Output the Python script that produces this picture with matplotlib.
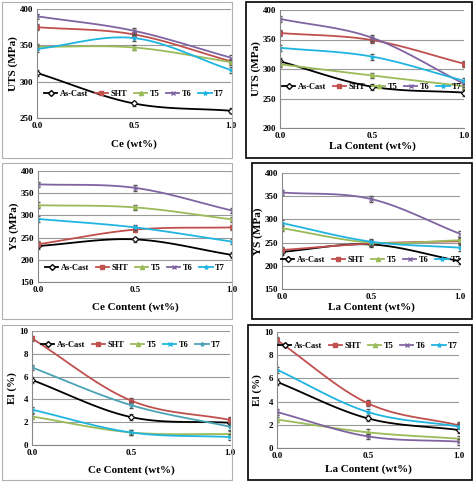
import numpy as np
import matplotlib
matplotlib.use('Agg')
import matplotlib.pyplot as plt
from matplotlib.patches import Rectangle

plt.rcParams['font.family'] = ['Liberation Serif', 'DejaVu Serif']

x = [0.0, 0.5, 1.0]
series = ['As-Cast', 'SHT', 'T5', 'T6', 'T7']

uts_ce = {'As-Cast': [312, 270, 260], 'SHT': [375, 365, 328], 'T5': [348, 347, 327],
          'T6': [390, 370, 333], 'T7': [345, 360, 316]}
uts_la = {'As-Cast': [313, 270, 260], 'SHT': [361, 349, 309], 'T5': [308, 289, 271],
          'T6': [385, 353, 275], 'T7': [336, 321, 280]}
ys_ce = {'As-Cast': [231, 246, 211], 'SHT': [235, 268, 273], 'T5': [323, 318, 291],
         'T6': [370, 362, 311], 'T7': [292, 273, 241]}
ys_la = {'As-Cast': [230, 246, 210], 'SHT': [234, 248, 253], 'T5': [281, 250, 255],
         'T6': [358, 344, 269], 'T7': [292, 252, 239]}
el_ce = {'As-Cast': [5.7, 2.45, 1.95], 'SHT': [9.35, 3.9, 2.2], 'T5': [2.5, 1.1, 0.95],
         'T6': [3.1, 1.1, 0.7], 'T7': [6.8, 3.5, 1.6]}
el_la = {'As-Cast': [5.7, 2.55, 1.55], 'SHT': [9.3, 3.85, 1.95], 'T5': [2.45, 1.35, 0.8],
         'T6': [3.1, 1.0, 0.55], 'T7': [6.75, 3.1, 1.85]}

colors = {'As-Cast': 'black', 'SHT': '#c0504d', 'T5': '#9bbb59', 'T6': '#8064a2', 'T7': '#1fb5e0'}
colors_el_ce = dict(colors, T6='#1fb5e0', T7='#4ba3b6')
markers = {'As-Cast': 'D', 'SHT': 's', 'T5': '^', 'T6': 'x', 'T7': '*'}


def smooth(xs, ys, n=30):
    # Catmull-Rom style curve through the points, like Excel's smoothed lines
    xs = np.asarray(xs, float); ys = np.asarray(ys, float)
    px = np.concatenate([[2 * xs[0] - xs[1]], xs, [2 * xs[-1] - xs[-2]]])
    py = np.concatenate([[2 * ys[0] - ys[1]], ys, [2 * ys[-1] - ys[-2]]])
    ox, oy = [], []
    for i in range(1, len(px) - 2):
        t = np.linspace(0, 1, n)
        for p, o in ((px, ox), (py, oy)):
            p0, p1, p2, p3 = p[i - 1:i + 3]
            o.extend(0.5 * (2 * p1 + (-p0 + p2) * t + (2 * p0 - 5 * p1 + 4 * p2 - p3) * t**2
                            + (-p0 + 3 * p1 - 3 * p2 + p3) * t**3))
    return ox, oy


fig = plt.figure(figsize=(4.74, 4.83), dpi=100)
W, H = 474, 483

# panel boxes (left gray, right black)
boxes = [(2, 2, 230, 156, '#b0b0b0'), (246, 2, 226, 156, 'black'),
         (2, 163, 230, 156, '#b0b0b0'), (252, 163, 220, 156, 'black'),
         (2, 325, 230, 155, '#b0b0b0'), (248, 325, 224, 155, 'black')]
for bx, by, bw, bh, ec in boxes:
    fig.add_artist(Rectangle((bx / W, 1 - (by + bh) / H), bw / W, bh / H, transform=fig.transFigure,
                             fill=False, ec=ec, lw=1.2 if ec == 'black' else 0.8))

panels = [
    ((37, 9, 194, 109), uts_ce, colors, (250, 400), 50, 'UTS (MPa)', 'Ce (wt%)', 0.22, 7),
    ((280, 10, 184, 118), uts_la, colors, (200, 400), 50, 'UTS (MPa)', 'La Content (wt%)', 0.35, 1),
    ((38, 171, 194, 111), ys_ce, colors, (150, 400), 50, 'YS (MPa)', 'Ce Content (wt%)', 0.13, 6),
    ((282, 173, 178, 116), ys_la, colors, (150, 400), 50, 'YS (MPa)', 'La Content (wt%)', 0.25, 1),
    ((32, 331, 198, 114), el_ce, colors_el_ce, (0, 10), 2, 'El (%)', 'Ce Content (wt%)', 0.88, 6),
    ((277, 332, 182, 116), el_la, colors, (0, 10), 2, 'El (%)', 'La Content (wt%)', 0.88, 3),
]

for (l, t, w, h), data, cols, ylim, step, ylab, xlab, legy, xpad in panels:
    ax = fig.add_axes([l / W, 1 - (t + h) / H, w / W, h / H])
    for s in series:
        sx, sy = smooth(x, data[s])
        ax.plot(sx, sy, color=cols[s], lw=1.3)
        err = (ylim[1] - ylim[0]) * 0.025
        ax.errorbar(x, data[s], yerr=err, fmt='none', ecolor='#555555', elinewidth=0.6, capsize=1.5)
        ax.plot(x, data[s], ls='none', marker=markers[s], color=cols[s], ms=3,
                mfc='white' if s == 'As-Cast' else cols[s], mew=0.8)
        ax.plot([], [], color=cols[s], marker=markers[s], ms=3, lw=1.3,
                mfc='white' if s == 'As-Cast' else cols[s], label=s)
    ax.set_xlim(0, 1)
    ax.set_ylim(*ylim)
    ax.set_xticks(x)
    ax.set_xticklabels(['0.0', '0.5', '1.0'])
    ax.set_yticks(np.arange(ylim[0], ylim[1] + 0.01, step))
    ax.yaxis.grid(True, color='#999999', lw=0.8)
    ax.set_axisbelow(True)
    for sp in ('top', 'right'):
        ax.spines[sp].set_visible(False)
    ax.spines['left'].set_color('#888888')
    ax.spines['bottom'].set_color('#888888')
    ax.tick_params(length=0, labelsize=6.5, pad=3)
    for lab in ax.get_xticklabels() + ax.get_yticklabels():
        lab.set_fontweight('bold')
    ax.set_ylabel(ylab, fontsize=8, fontweight='bold', labelpad=1)
    ax.set_xlabel(xlab, fontsize=8, fontweight='bold', labelpad=xpad)
    leg = ax.legend(loc='center', bbox_to_anchor=(0.5, legy), ncol=5, frameon=False,
                    handlelength=1.6, columnspacing=0.8, handletextpad=0.3,
                    prop={'weight': 'bold', 'size': 6})
    leg.set_zorder(5)

fig.savefig('out.png', dpi=100)
